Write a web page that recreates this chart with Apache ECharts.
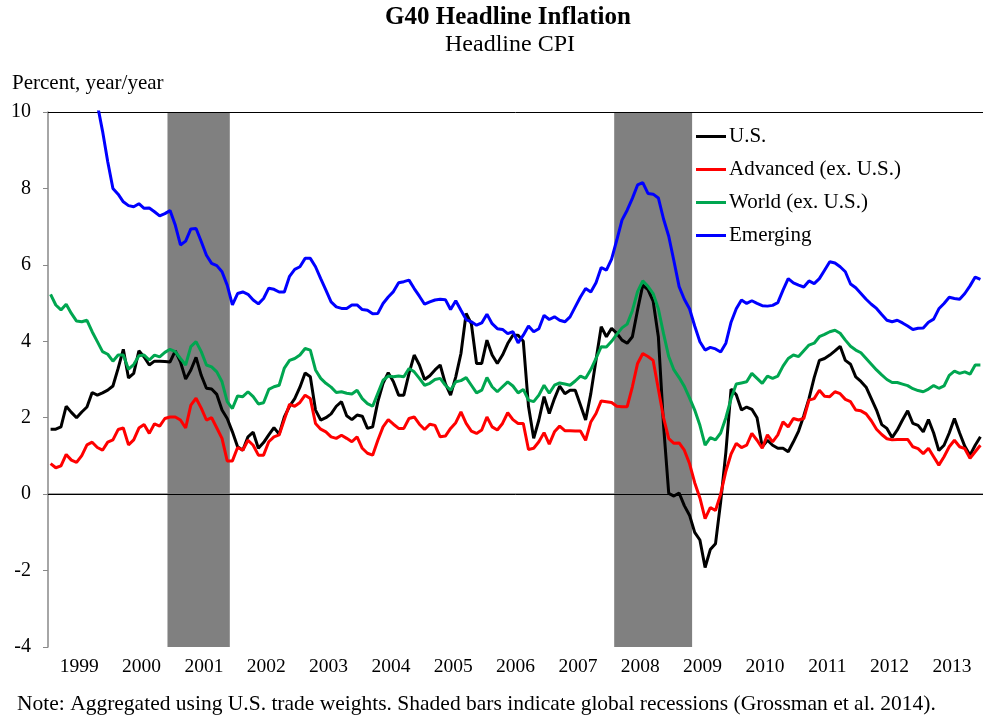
<!DOCTYPE html>
<html>
<head>
<meta charset="utf-8">
<title>G40 Headline Inflation</title>
<script src="https://cdn.jsdelivr.net/npm/echarts@6/dist/echarts.min.js"></script>
<style>
  html, body { margin: 0; padding: 0; background: #fff; }
  #chart { width: 983px; height: 719px; }
</style>
</head>
<body>
<div id="chart"></div>
<script>
// year labels on the x axis, one category per month
const years = ['1999', '2000', '2001', '2002', '2003', '2004', '2005', '2006',
  '2007', '2008', '2009', '2010', '2011', '2012', '2013']

// global recessions (Grossman et al. 2014), first and last month
const recessions = [['2000-12', '2001-11'], ['2008-02', '2009-04']]

// percent, year/year, Jan 1999 .. Dec 2013
const us = [
  1.70, 1.70, 1.76, 2.30, 2.14, 2.00, 2.15, 2.28, 2.66, 2.59, 2.65, 2.72,
  2.83, 3.29, 3.79, 3.04, 3.16, 3.75, 3.59, 3.38, 3.48, 3.48, 3.47, 3.46,
  3.75, 3.46, 3.01, 3.25, 3.58, 3.11, 2.77, 2.75, 2.61, 2.20, 1.98, 1.63,
  1.24, 1.15, 1.50, 1.62, 1.20, 1.35, 1.55, 1.74, 1.57, 2.02, 2.30, 2.50,
  2.80, 3.17, 3.07, 2.20, 1.94, 2.00, 2.10, 2.30, 2.42, 2.05, 1.95, 2.07,
  2.04, 1.72, 1.76, 2.42, 2.90, 3.18, 2.94, 2.59, 2.59, 3.16, 3.64, 3.38,
  3.00, 3.10, 3.25, 3.38, 2.89, 2.59, 3.07, 3.68, 4.73, 4.46, 3.42, 3.42,
  4.03, 3.64, 3.42, 3.64, 3.94, 4.16, 4.16, 4.00, 2.30, 1.46, 1.94, 2.55,
  2.11, 2.50, 2.83, 2.63, 2.72, 2.72, 2.33, 1.94, 2.63, 3.51, 4.38, 4.12,
  4.34, 4.21, 4.03, 3.95, 4.12, 4.82, 5.47, 5.35, 5.05, 4.12, 1.80, 0.02,
  -0.05, 0.03, -0.30, -0.55, -1.00, -1.20, -1.92, -1.45, -1.30, -0.20, 1.10, 2.75,
  2.60, 2.20, 2.28, 2.22, 2.00, 1.24, 1.41, 1.28, 1.20, 1.20, 1.11, 1.37,
  1.65, 2.05, 2.50, 3.05, 3.50, 3.55, 3.64, 3.75, 3.87, 3.50, 3.40, 3.07,
  2.95, 2.80, 2.50, 2.20, 1.82, 1.72, 1.48, 1.68, 1.94, 2.18, 1.85, 1.80,
  1.63, 1.95, 1.60, 1.14, 1.28, 1.60, 1.98, 1.60, 1.25, 1.02, 1.28, 1.50
]
const advanced = [
  0.80, 0.69, 0.74, 1.04, 0.89, 0.83, 1.01, 1.29, 1.36, 1.22, 1.15, 1.36,
  1.42, 1.69, 1.73, 1.29, 1.42, 1.73, 1.82, 1.59, 1.84, 1.78, 1.98, 2.02,
  2.02, 1.94, 1.73, 2.33, 2.51, 2.25, 1.94, 2.00, 1.73, 1.46, 0.87, 0.87,
  1.22, 1.15, 1.41, 1.28, 1.02, 1.02, 1.37, 1.50, 1.55, 1.95, 2.35, 2.30,
  2.40, 2.59, 2.50, 1.85, 1.70, 1.63, 1.50, 1.46, 1.54, 1.46, 1.37, 1.50,
  1.20, 1.07, 1.02, 1.41, 1.76, 1.95, 1.83, 1.72, 1.72, 1.98, 2.02, 1.83,
  1.69, 1.83, 1.80, 1.50, 1.52, 1.72, 1.87, 2.15, 1.85, 1.65, 1.59, 1.68,
  2.02, 1.76, 1.68, 1.85, 2.13, 1.95, 1.85, 1.85, 1.17, 1.20, 1.37, 1.61,
  1.31, 1.63, 1.78, 1.66, 1.66, 1.65, 1.65, 1.41, 1.89, 2.11, 2.44, 2.42,
  2.40, 2.30, 2.29, 2.29, 2.81, 3.42, 3.68, 3.60, 3.50, 2.75, 2.00, 1.45,
  1.33, 1.34, 1.15, 0.80, 0.30, -0.10, -0.64, -0.35, -0.43, 0.00, 0.60, 1.05,
  1.33, 1.22, 1.28, 1.59, 1.41, 1.20, 1.55, 1.37, 1.55, 1.89, 1.76, 1.98,
  1.94, 1.98, 2.46, 2.50, 2.72, 2.56, 2.55, 2.68, 2.63, 2.48, 2.42, 2.20,
  2.18, 2.10, 1.92, 1.70, 1.56, 1.45, 1.42, 1.43, 1.43, 1.43, 1.24, 1.19,
  1.06, 1.20, 0.98, 0.76, 0.98, 1.24, 1.41, 1.24, 1.19, 0.94, 1.11, 1.28
]
const world = [
  5.23, 4.95, 4.82, 4.97, 4.73, 4.53, 4.51, 4.55, 4.25, 3.99, 3.73, 3.66,
  3.48, 3.64, 3.64, 3.27, 3.39, 3.62, 3.64, 3.51, 3.64, 3.59, 3.71, 3.79,
  3.73, 3.55, 3.38, 3.86, 3.99, 3.73, 3.38, 3.33, 3.20, 2.94, 2.42, 2.24,
  2.57, 2.55, 2.68, 2.55, 2.36, 2.39, 2.74, 2.81, 2.85, 3.30, 3.50, 3.55,
  3.64, 3.81, 3.77, 3.25, 3.03, 2.90, 2.80, 2.66, 2.68, 2.64, 2.62, 2.72,
  2.50, 2.37, 2.30, 2.64, 2.98, 3.09, 3.07, 3.09, 3.07, 3.29, 3.20, 3.03,
  2.85, 2.90, 3.00, 3.03, 2.85, 2.72, 2.94, 2.97, 3.05, 2.85, 2.65, 2.72,
  3.05, 2.81, 2.68, 2.81, 2.94, 2.83, 2.65, 2.74, 2.46, 2.42, 2.59, 2.85,
  2.64, 2.85, 2.91, 2.88, 2.85, 2.96, 3.09, 3.03, 3.26, 3.55, 3.86, 3.85,
  4.00, 4.18, 4.35, 4.45, 4.80, 5.30, 5.58, 5.44, 5.25, 4.85, 4.20, 3.60,
  3.25, 3.05, 2.82, 2.52, 2.20, 1.80, 1.28, 1.48, 1.42, 1.60, 2.00, 2.50,
  2.88, 2.91, 2.94, 3.16, 3.03, 2.90, 3.09, 3.03, 3.09, 3.35, 3.55, 3.64,
  3.60, 3.75, 3.90, 3.95, 4.12, 4.18, 4.25, 4.29, 4.21, 4.03, 3.87, 3.77,
  3.70, 3.55, 3.40, 3.25, 3.12, 3.00, 2.92, 2.92, 2.88, 2.84, 2.76, 2.71,
  2.68, 2.75, 2.84, 2.77, 2.83, 3.11, 3.22, 3.16, 3.20, 3.14, 3.38, 3.38
]
const emerging = [
  14.8, 14.5, 14.0, 13.4, 12.8, 12.2, 11.7, 11.2, 10.8, 10.2, 9.50, 8.70,
  8.00, 7.85, 7.65, 7.55, 7.52, 7.60, 7.48, 7.49, 7.39, 7.28, 7.34, 7.42,
  7.04, 6.52, 6.62, 6.94, 6.95, 6.61, 6.25, 6.04, 5.98, 5.82, 5.47, 4.95,
  5.25, 5.29, 5.23, 5.08, 4.98, 5.12, 5.39, 5.36, 5.29, 5.29, 5.70, 5.88,
  5.95, 6.17, 6.17, 5.95, 5.64, 5.34, 5.03, 4.90, 4.86, 4.86, 4.95, 4.95,
  4.83, 4.81, 4.72, 4.73, 4.99, 5.16, 5.30, 5.53, 5.56, 5.60, 5.38, 5.18,
  4.97, 5.03, 5.08, 5.10, 5.09, 4.83, 5.06, 4.81, 4.57, 4.51, 4.42, 4.48,
  4.71, 4.46, 4.33, 4.31, 4.20, 4.25, 3.96, 4.16, 4.40, 4.25, 4.33, 4.68,
  4.57, 4.64, 4.55, 4.51, 4.64, 4.90, 5.16, 5.38, 5.29, 5.53, 5.93, 5.86,
  6.15, 6.65, 7.17, 7.43, 7.74, 8.09, 8.15, 7.87, 7.85, 7.75, 7.20, 6.75,
  6.10, 5.43, 5.10, 4.85, 4.40, 3.99, 3.77, 3.84, 3.80, 3.72, 3.95, 4.50,
  4.85, 5.08, 4.99, 5.06, 4.99, 4.93, 4.92, 4.94, 5.01, 5.34, 5.64, 5.53,
  5.47, 5.42, 5.58, 5.51, 5.64, 5.86, 6.08, 6.05, 5.95, 5.82, 5.50, 5.40,
  5.25, 5.10, 4.97, 4.86, 4.70, 4.55, 4.51, 4.55, 4.48, 4.40, 4.31, 4.34,
  4.35, 4.50, 4.58, 4.85, 4.99, 5.15, 5.12, 5.10, 5.25, 5.45, 5.68, 5.62
]

const FONT = '"Liberation Serif", "Times New Roman", serif'
const yMin = -4
const yMax = 10

// month categories built from the year labels
const months = []
years.forEach(y => {
  for (let m = 1; m <= 12; m++) months.push(y + '-' + String(m).padStart(2, '0'))
})

// shaded areas on a hidden month-count axis so they cover whole months
const recessionAreas = recessions.map(r => [
  { xAxis: months.indexOf(r[0]) },
  { xAxis: months.indexOf(r[1]) + 1 }
])

const myChart = echarts.init(document.getElementById('chart'), null, { renderer: 'canvas' })

function lineSeries (name, data, color) {
  return {
    name: name,
    type: 'line',
    data: data,
    symbol: 'none',
    z: 3,
    lineStyle: { color: color, width: 3 },
    itemStyle: { color: color },
    clip: true
  }
}

myChart.setOption({
  animation: false,
  backgroundColor: '#fff',
  textStyle: { fontFamily: FONT },
  graphic: [
    { type: 'text', x: 508, y: 18, style: { text: 'G40 Headline Inflation', font: 'bold 25px ' + FONT, fill: '#000', textAlign: 'center', textVerticalAlign: 'middle' } },
    { type: 'text', x: 510, y: 45, style: { text: 'Headline CPI', font: '24px ' + FONT, fill: '#000', textAlign: 'center', textVerticalAlign: 'middle' } },
    { type: 'text', x: 12, y: 83, style: { text: 'Percent, year/year', font: '21px ' + FONT, fill: '#000', textAlign: 'left', textVerticalAlign: 'middle' } },
    { type: 'text', x: 17, y: 704, style: { text: 'Note: Aggregated using U.S. trade weights. Shaded bars indicate global recessions (Grossman et al. 2014).', font: '21.5px ' + FONT, fill: '#000', textAlign: 'left', textVerticalAlign: 'middle' } }
  ],
  legend: {
    data: ['U.S.', 'Advanced (ex. U.S.)', 'World (ex. U.S.)', 'Emerging'],
    orient: 'vertical',
    left: 696,
    top: 126,
    icon: 'rect',
    itemWidth: 30,
    itemHeight: 3,
    itemGap: 12,
    padding: 0,
    textStyle: { fontFamily: FONT, fontSize: 21, color: '#000', lineHeight: 21, padding: [0, 0, 0, -2] }
  },
  grid: {
    left: 48,
    right: -3,
    top: 112,
    bottom: 72
  },
  xAxis: [
    {
      type: 'category',
      data: months,
      boundaryGap: true,
      axisLine: { lineStyle: { color: '#888', width: 1.5 } },
      axisTick: {
        length: 5,
        lineStyle: { color: '#888', width: 1 },
        interval: (index) => index % 12 === 0
      },
      axisLabel: {
        interval: (index) => index % 12 === 6,
        formatter: (value) => value.slice(0, 4),
        fontFamily: FONT,
        fontSize: 19.5,
        color: '#000',
        margin: 10,
        padding: [0, 5, 0, 0]
      },
      splitLine: { show: false }
    },
    {
      type: 'value',
      min: 0,
      max: months.length,
      show: false
    }
  ],
  yAxis: {
    type: 'value',
    min: yMin,
    max: yMax,
    interval: 2,
    axisLine: { show: true, lineStyle: { color: '#888', width: 1.5 } },
    axisTick: { show: true, length: 5, lineStyle: { color: '#888' } },
    axisLabel: { fontFamily: FONT, fontSize: 20, color: '#000', margin: 17 },
    splitLine: { show: false }
  },
  series: [
    {
      name: 'recessions',
      type: 'line',
      xAxisIndex: 1,
      data: [],
      markArea: {
        silent: true,
        itemStyle: { color: '#808080', opacity: 1 },
        data: recessionAreas
      },
      markLine: {
        silent: true,
        symbol: 'none',
        z: 2,
        label: { show: false },
        lineStyle: { color: '#000', width: 1, type: 'solid' },
        data: [{ yAxis: 0 }, { yAxis: yMax }]
      }
    },
    lineSeries('U.S.', us, '#000000'),
    lineSeries('Advanced (ex. U.S.)', advanced, '#ff0000'),
    lineSeries('World (ex. U.S.)', world, '#00a650'),
    lineSeries('Emerging', emerging, '#0000ff')
  ]
})

window.addEventListener('resize', myChart.resize)
</script>
</body>
</html>
